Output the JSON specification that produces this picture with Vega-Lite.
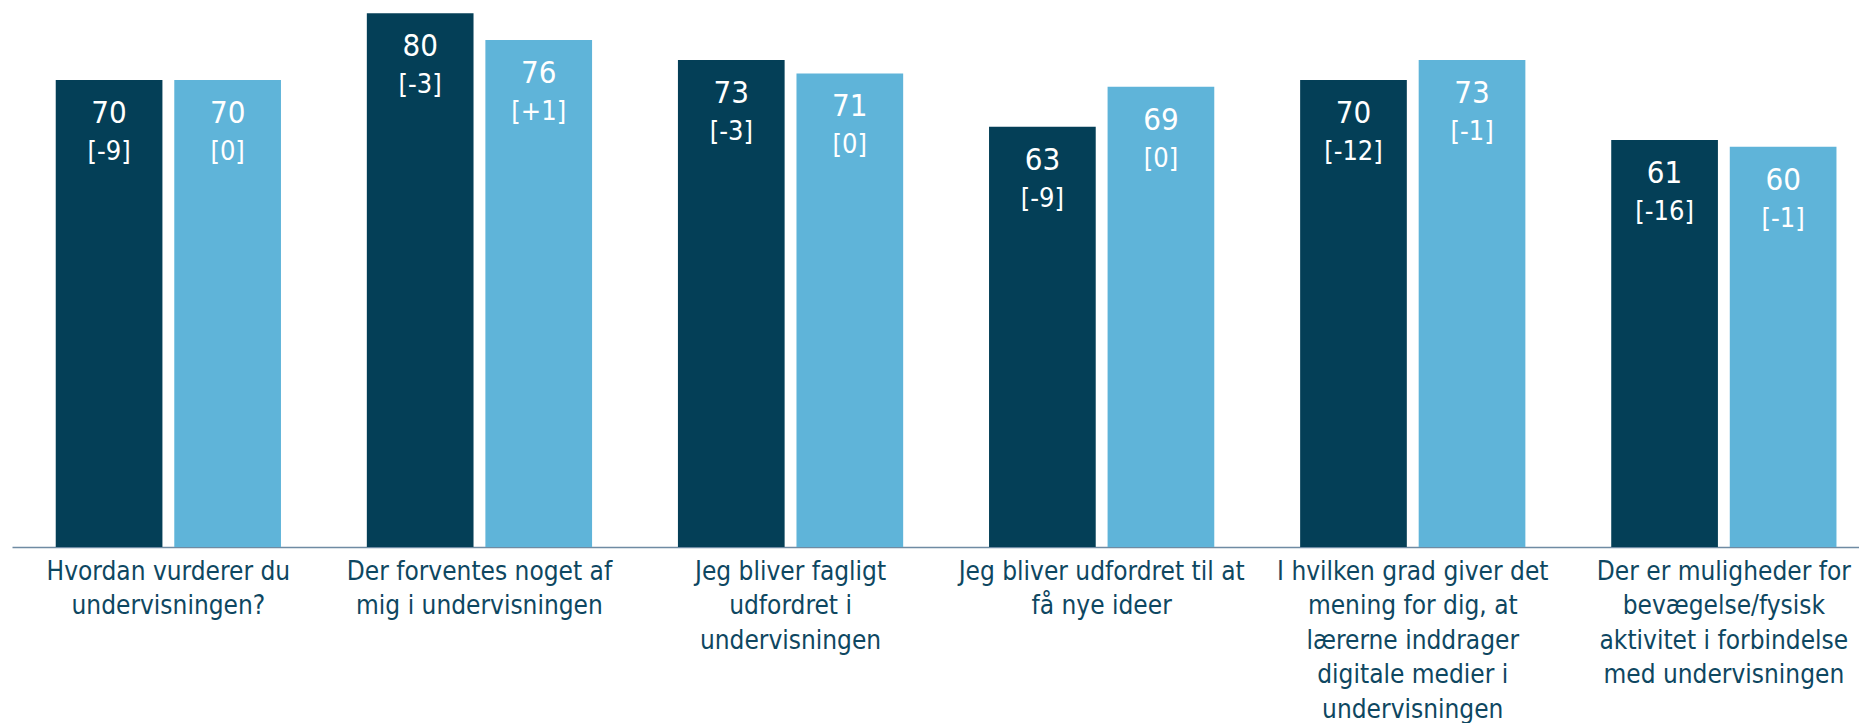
{
  "$schema": "https://vega.github.io/schema/vega-lite/v6.json",
  "width": 1847,
  "height": 547,
  "autosize": {"type": "none"},
  "padding": {"left": 12, "top": 0, "right": 0, "bottom": 176},
  "background": "white",
  "config": {"view": {"stroke": null}, "font": "DejaVu Sans Condensed, DejaVu Sans"},
  "data": {
    "values": [
      {"spm": "Hvordan vurderer du\nundervisningen?", "serie": "Skolen", "pct": 70, "diff": "[-9]"},
      {"spm": "Hvordan vurderer du\nundervisningen?", "serie": "Landsgennemsnit", "pct": 70, "diff": "[0]"},
      {"spm": "Der forventes noget af\nmig i undervisningen", "serie": "Skolen", "pct": 80, "diff": "[-3]"},
      {"spm": "Der forventes noget af\nmig i undervisningen", "serie": "Landsgennemsnit", "pct": 76, "diff": "[+1]"},
      {"spm": "Jeg bliver fagligt\nudfordret i\nundervisningen", "serie": "Skolen", "pct": 73, "diff": "[-3]"},
      {"spm": "Jeg bliver fagligt\nudfordret i\nundervisningen", "serie": "Landsgennemsnit", "pct": 71, "diff": "[0]"},
      {"spm": "Jeg bliver udfordret til at\nfå nye ideer", "serie": "Skolen", "pct": 63, "diff": "[-9]"},
      {"spm": "Jeg bliver udfordret til at\nfå nye ideer", "serie": "Landsgennemsnit", "pct": 69, "diff": "[0]"},
      {"spm": "I hvilken grad giver det\nmening for dig, at\nlærerne inddrager\ndigitale medier i\nundervisningen", "serie": "Skolen", "pct": 70, "diff": "[-12]"},
      {"spm": "I hvilken grad giver det\nmening for dig, at\nlærerne inddrager\ndigitale medier i\nundervisningen", "serie": "Landsgennemsnit", "pct": 73, "diff": "[-1]"},
      {"spm": "Der er muligheder for\nbevægelse/fysisk\naktivitet i forbindelse\nmed undervisningen", "serie": "Skolen", "pct": 61, "diff": "[-16]"},
      {"spm": "Der er muligheder for\nbevægelse/fysisk\naktivitet i forbindelse\nmed undervisningen", "serie": "Landsgennemsnit", "pct": 60, "diff": "[-1]"}
    ]
  },
  "encoding": {
    "x": {
      "field": "spm", "type": "nominal", "sort": null,
      "scale": {"paddingInner": 0.276, "paddingOuter": 0.1065, "align": 0.66},
      "axis": {
        "title": null, "labelAngle": 0, "ticks": false,
        "domainColor": "#6f8ba3", "domainWidth": 1.5, "domainOpacity": 1,
        "labelExpr": "split(datum.value, '\\n')",
        "labelFont": "DejaVu Sans Condensed, DejaVu Sans",
        "labelFontSize": 26, "labelLineHeight": 34.5,
        "labelColor": "#0e4761", "labelPadding": 11,
        "labelLimit": 0, "labelOverlap": false, "labelBaseline": "top"
      }
    },
    "xOffset": {"field": "serie", "type": "nominal", "sort": ["Skolen", "Landsgennemsnit"], "scale": {"paddingInner": 0.1, "paddingOuter": 0}},
    "y": {"field": "pct", "type": "quantitative", "scale": {"domain": [0, 82], "nice": false}, "axis": null}
  },
  "layer": [
    {
      "mark": {"type": "bar"},
      "encoding": {
        "color": {"field": "serie", "type": "nominal", "sort": ["Skolen", "Landsgennemsnit"], "scale": {"domain": ["Skolen", "Landsgennemsnit"], "range": ["#043f57", "#5fb4d9"]}, "legend": null}
      }
    },
    {
      "mark": {"type": "text", "color": "white", "fontSize": 31, "baseline": "alphabetic", "dy": 43, "font": "DejaVu Sans Condensed, DejaVu Sans"},
      "encoding": {"text": {"field": "pct", "type": "quantitative", "format": ".0f"}}
    },
    {
      "mark": {"type": "text", "color": "white", "fontSize": 27, "baseline": "alphabetic", "dy": 80, "font": "DejaVu Sans Condensed, DejaVu Sans"},
      "encoding": {"text": {"field": "diff", "type": "nominal"}}
    }
  ]
}
